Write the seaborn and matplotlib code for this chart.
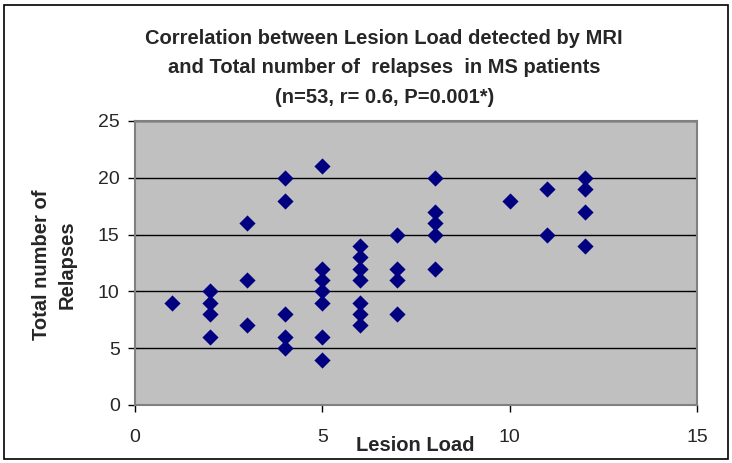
import pandas as pd
import matplotlib.pyplot as plt
import seaborn as sns
from matplotlib.patches import Rectangle

# Data (overlapping points appear once)
lesion_load = [1,
               2, 2, 2, 2,
               3, 3, 3,
               4, 4, 4, 4, 4,
               5, 5, 5, 5, 5, 5, 5,
               6, 6, 6, 6, 6, 6, 6,
               7, 7, 7, 7,
               8, 8, 8, 8, 8,
               10,
               11, 11,
               12, 12, 12, 12]
relapses = [9,
            10, 9, 8, 6,
            16, 11, 7,
            20, 18, 8, 6, 5,
            21, 12, 11, 10, 9, 6, 4,
            14, 13, 12, 11, 9, 8, 7,
            15, 12, 11, 8,
            20, 17, 16, 15, 12,
            18,
            19, 15,
            20, 19, 17, 14]

df = pd.DataFrame({"Lesion Load": lesion_load, "Relapses": relapses})

sns.set_style("white")
plt.rcParams["font.family"] = ["Liberation Sans", "DejaVu Sans"]

fig = plt.figure(figsize=(7.32, 4.63), dpi=100)
ax = fig.add_axes([0.1844, 0.1253, 0.7678, 0.6134])
ax.set_facecolor("#C0C0C0")

sns.scatterplot(data=df, x="Lesion Load", y="Relapses", marker="D", s=68,
                color="#000080", edgecolor="#000080", linewidth=0, ax=ax, zorder=3)

ax.set_xlim(0, 15)
ax.set_ylim(0, 25)
ax.set_xticks([0, 5, 10, 15])
ax.set_yticks([0, 5, 10, 15, 20, 25])
ax.yaxis.grid(True, color="black", linewidth=1)
ax.set_axisbelow(True)
for side in ["top", "right", "left", "bottom"]:
    ax.spines[side].set_color("#808080")
    ax.spines[side].set_linewidth(1.5)
ax.tick_params(axis="both", direction="out", length=5, width=1, color="black",
               labelsize=14, bottom=True, left=True)
ax.tick_params(axis="x", pad=12)
ax.tick_params(axis="y", pad=6)
ax.set_xlabel("")
ax.set_ylabel("")

fig.text(0.567, 0.026, "Lesion Load", ha="center", va="baseline",
         fontsize=14.5, fontweight="bold")
fig.text(0.074, 0.428, "Total number of\nRelapses", ha="center", va="center",
         rotation=90, fontsize=14.5, fontweight="bold", linespacing=1.45,
         multialignment="center")

title_lines = ["Correlation between Lesion Load detected by MRI",
               "and Total number of  relapses  in MS patients",
               "(n=53, r= 0.6, P=0.001*)"]
for line, yb in zip(title_lines, [0.906, 0.843, 0.778]):
    fig.text(0.525, yb, line, ha="center", va="baseline",
             fontsize=14.5, fontweight="bold")

fig.patches.append(Rectangle((0.006, 0.008), 0.988, 0.982, transform=fig.transFigure,
                             fill=False, edgecolor="black", linewidth=1.2))

fig.savefig("out.png", dpi=100)
